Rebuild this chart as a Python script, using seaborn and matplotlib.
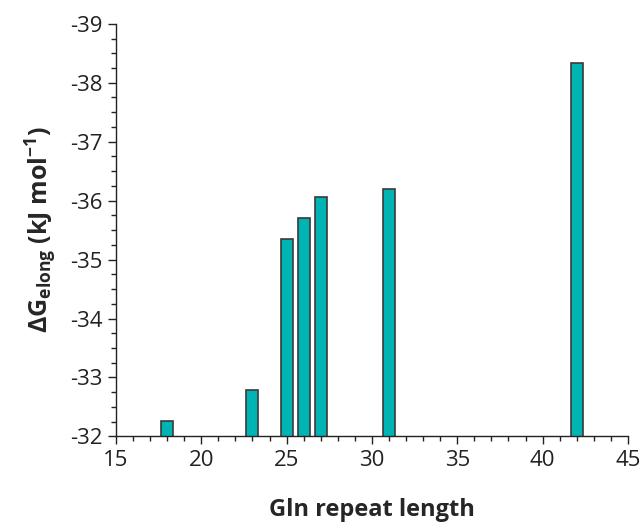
import matplotlib
matplotlib.use("Agg")
import matplotlib.pyplot as plt
import seaborn as sns
from matplotlib.ticker import MultipleLocator

# Gln repeat length vs. elongation free energy
repeat_length = [18, 23, 25, 26, 27, 31, 42]
dG_elong = [-32.27, -32.78, -35.35, -35.71, -36.06, -36.19, -38.33]

sns.set_style("ticks")
plt.rcParams['font.family'] = ['Open Sans', 'DejaVu Sans']
plt.rcParams['axes.unicode_minus'] = False
plt.rcParams['mathtext.fontset'] = 'custom'
plt.rcParams['mathtext.rm'] = 'Open Sans'
plt.rcParams['mathtext.bf'] = 'Open Sans:bold'

fig = plt.figure(figsize=(6.44, 5.29), dpi=100)
ax = fig.add_axes([0.18, 0.175, 0.795, 0.78])

sns.barplot(x=repeat_length, y=dG_elong, native_scale=True, width=0.7,
            color="#00B4B4", saturation=1, edgecolor="#3a3a3a", linewidth=1.2, ax=ax)

# inverted energy axis: -32 at the bottom, bars grow upwards
ax.set_ylim(-32, -39)
ax.set_xlim(15, 45)
ax.xaxis.set_major_locator(MultipleLocator(5))
ax.xaxis.set_minor_locator(MultipleLocator(1))
ax.yaxis.set_major_locator(MultipleLocator(1))
ax.yaxis.set_minor_locator(MultipleLocator(0.25))

ax.tick_params(which='major', direction='out', length=6, width=1.0, labelsize=16, colors='#222222')
ax.tick_params(which='minor', direction='out', length=3.5, width=1.0, colors='#222222')
for s in ['left', 'bottom']:
    ax.spines[s].set_linewidth(1.0)
    ax.spines[s].set_color('#222222')
sns.despine(ax=ax)

ax.set_xlabel("Gln repeat length", fontsize=17, fontweight='bold', labelpad=20)
ax.set_ylabel(r"ΔG$_{\mathbf{elong}}$ (kJ mol$^{\mathbf{-1}}$)", fontsize=18,
              fontweight='bold', labelpad=8)

fig.savefig("out.png", dpi=100)
